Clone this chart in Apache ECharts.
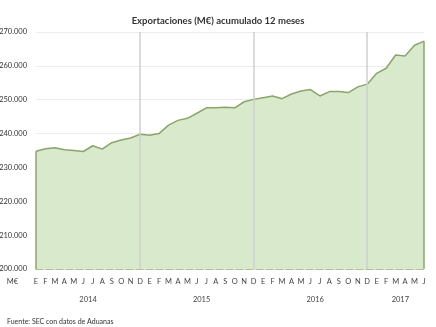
<!DOCTYPE html>
<html>
<head>
<meta charset="utf-8">
<script src="https://cdn.jsdelivr.net/npm/echarts@6/dist/echarts.min.js"></script>
<style>
  html, body { margin: 0; padding: 0; background: #ffffff; }
  #chart { width: 436px; height: 327px; }
</style>
</head>
<body>
<div id="chart"></div>
<script>
// Monthly initials (Spanish) from January 2014 to June 2017
const months = [
  'E','F','M','A','M','J','J','A','S','O','N','D',
  'E','F','M','A','M','J','J','A','S','O','N','D',
  'E','F','M','A','M','J','J','A','S','O','N','D',
  'E','F','M','A','M','J'
];

// Year groups and how many months each covers
const years = ['2014', '2015', '2016', '2017'];
const monthsPerYear = [12, 12, 12, 6];

// Exports, rolling 12-month total (million EUR)
const exportsM = [
  234800, 235500, 235800, 235200, 235000, 234700, 236400, 235400, 237300, 238100, 238700, 239800,
  239500, 240000, 242500, 243900, 244500, 246000, 247600, 247600, 247800, 247600, 249400, 250100,
  250600, 251100, 250300, 251700, 252600, 253000, 251100, 252400, 252400, 252100, 253800, 254600,
  257800, 259300, 263200, 262900, 266100, 267300
];

// Y-axis range
const yMin = 200000, yMax = 270000, yStep = 10000;

const FONT = "Lato, 'Noto Sans', sans-serif";

// Centre of each year group, in category-index units
const yearCenters = [];
let start = 0;
monthsPerYear.forEach(n => { yearCenters.push(start + (n - 1) / 2); start += n; });

// December indices mark the year separators
const separators = [];
start = 0;
monthsPerYear.forEach(n => { start += n; if (start < months.length) separators.push(start - 1); });

const fmt = v => Math.round(v).toString().replace(/\B(?=(\d{3})+(?!\d))/g, '.');

const last = exportsM.length - 1;

const chart = echarts.init(document.getElementById('chart'), null, { renderer: 'canvas' });
chart.setOption({
  animation: false,
  backgroundColor: '#ffffff',
  title: [
    {
      text: 'Exportaciones (M€) acumulado 12 meses',
      left: 'center',
      top: 11,
      textStyle: { fontFamily: FONT, fontSize: 9.5, fontWeight: 'bold', color: '#333333' }
    },
    {
      text: 'Fuente: SEC con datos de Aduanas',
      left: 2,
      top: 313,
      textStyle: { fontFamily: FONT, fontSize: 7, fontWeight: 'normal', color: '#333333' }
    }
  ],
  grid: { left: 36, right: 12, top: 32, bottom: 58, containLabel: false, outerBoundsMode: 'none' },
  xAxis: [
    {
      type: 'category',
      data: months,
      boundaryGap: false,
      axisLine: { show: true, lineStyle: { color: '#9cb27f', width: 1.5, type: [7, 3] } },
      axisTick: { show: false },
      splitLine: { show: false },
      axisLabel: { interval: 0, margin: 9, fontFamily: FONT, fontSize: 7.5, color: '#444444' }
    },
    {
      type: 'value',
      position: 'bottom',
      min: 0,
      max: months.length - 1,
      offset: 18,
      axisLine: { show: false },
      axisTick: { show: false },
      splitLine: { show: false },
      axisLabel: {
        customValues: yearCenters,
        formatter: v => years[yearCenters.indexOf(v)] || '',
        margin: 9,
        fontFamily: FONT, fontSize: 7.5, color: '#444444'
      }
    }
  ],
  yAxis: {
    type: 'value',
    min: yMin,
    max: yMax,
    interval: yStep,
    name: 'M€',
    nameLocation: 'start',
    nameGap: 9,
    nameTextStyle: { fontFamily: FONT, fontSize: 7.5, color: '#444444', align: 'right', padding: [0, 18, 0, 0] },
    axisLine: { show: false },
    axisTick: { show: false },
    splitLine: { show: true, lineStyle: { color: '#ececec', width: 1 } },
    axisLabel: { formatter: fmt, margin: 9, fontFamily: FONT, fontSize: 7.5, color: '#333333' }
  },
  series: [
    {
      type: 'line',
      data: exportsM,
      symbol: 'none',
      lineStyle: { color: '#8aa46b', width: 1.5 },
      areaStyle: { color: '#d8e9cc', opacity: 1, origin: 'start' },
      z: 2,
      markLine: {
        silent: true,
        symbol: 'none',
        label: { show: false },
        lineStyle: { color: '#cfcfcf', width: 1.5, type: 'solid' },
        data: separators.map(i => ({ xAxis: i }))
      }
    },
    {
      // Side borders of the filled area
      type: 'line',
      data: [],
      markLine: {
        silent: true,
        symbol: 'none',
        label: { show: false },
        lineStyle: { color: '#8aa46b', width: 1.5, type: 'solid' },
        data: [
          [{ xAxis: 0, yAxis: yMin }, { xAxis: 0, yAxis: exportsM[0] }],
          [{ xAxis: last, yAxis: yMin }, { xAxis: last, yAxis: exportsM[last] }]
        ]
      }
    }
  ]
});
</script>
</body>
</html>
